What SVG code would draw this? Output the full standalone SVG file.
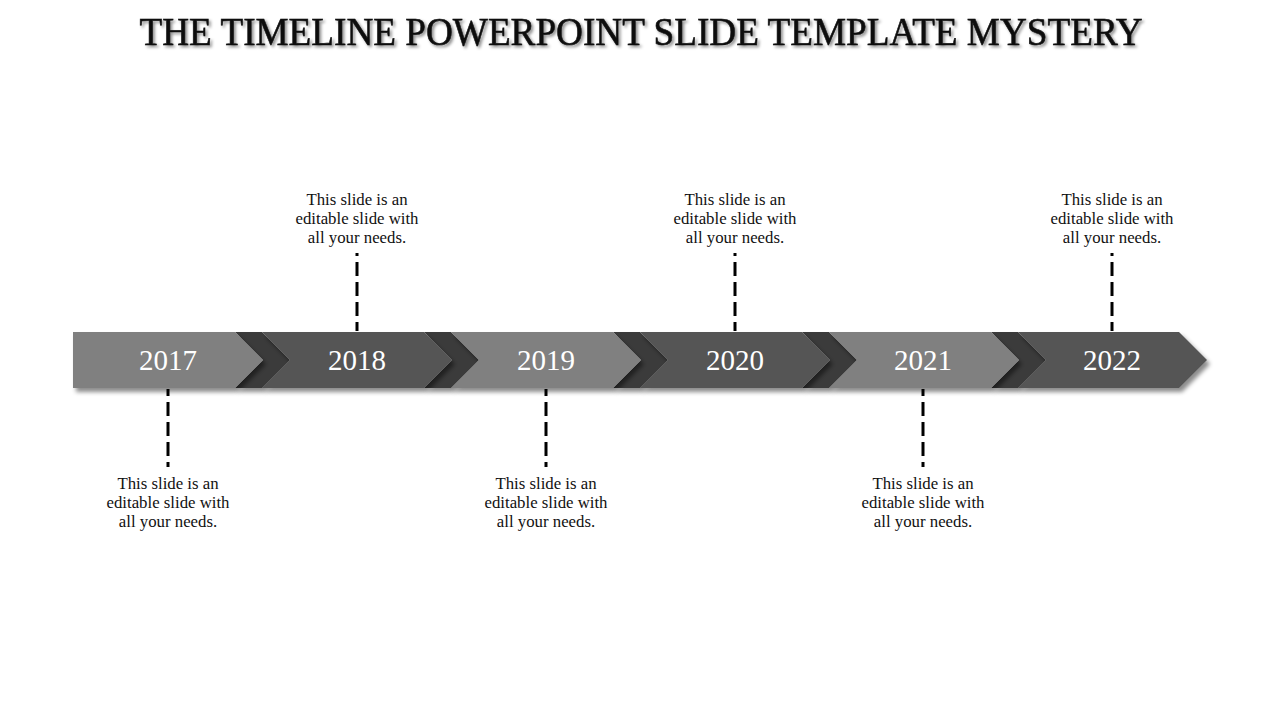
<svg xmlns="http://www.w3.org/2000/svg" width="1280" height="720" viewBox="0 0 1280 720">
<defs>
<filter id="sh" x="-10%" y="-20%" width="125%" height="160%">
<feDropShadow dx="3" dy="4" stdDeviation="2" flood-color="#000" flood-opacity="0.45"/>
</filter>
<filter id="tsh" x="-5%" y="-30%" width="110%" height="160%">
<feDropShadow dx="2" dy="2" stdDeviation="1.5" flood-color="#000" flood-opacity="0.45"/>
</filter>
<style>
.seg{filter:url(#sh)}
.light{fill:#808080}
.dark{fill:#555555}
.notch{fill:#3a3a3a}
.title{font-family:"Liberation Serif","DejaVu Serif",serif;font-size:40px;fill:#111111;stroke:#111111;stroke-width:0.6;text-anchor:middle}
.yr{font-family:"Liberation Serif","DejaVu Serif",serif;font-size:29px;fill:#ffffff;text-anchor:middle}
.desc{font-family:"Liberation Serif","DejaVu Serif",serif;font-size:16.8px;fill:#111111;text-anchor:middle}
.dash{stroke:#000;stroke-width:3;stroke-dasharray:14 6;fill:none}
.up{stroke-dashoffset:11}
.down{stroke-dashoffset:7}
</style>
</defs>
<rect width="1280" height="720" fill="#ffffff"/>
<text class="title" x="641" y="45" textLength="1003" lengthAdjust="spacingAndGlyphs" filter="url(#tsh)">THE TIMELINE POWERPOINT SLIDE TEMPLATE MYSTERY</text>
<g id="bar">
<g id="notches" filter="url(#sh)">
<polygon class="notch" points="235,332 262,332 290,360 262,388 235,388 263,360"/>
<polygon class="notch" points="424,332 451,332 479,360 451,388 424,388 452,360"/>
<polygon class="notch" points="613,332 640,332 668,360 640,388 613,388 641,360"/>
<polygon class="notch" points="802,332 829,332 857,360 829,388 802,388 830,360"/>
<polygon class="notch" points="991,332 1018,332 1046,360 1018,388 991,388 1019,360"/>
</g>
<g id="node-2017"><polygon class="seg light" points="73,332 235,332 263,360 235,388 73,388"/><text class="yr" x="168" y="370">2017</text></g>
<g id="node-2018"><polygon class="seg dark" points="262,332 424,332 452,360 424,388 262,388 290,360"/><text class="yr" x="357" y="370">2018</text></g>
<g id="node-2019"><polygon class="seg light" points="451,332 613,332 641,360 613,388 451,388 479,360"/><text class="yr" x="546" y="370">2019</text></g>
<g id="node-2020"><polygon class="seg dark" points="640,332 802,332 830,360 802,388 640,388 668,360"/><text class="yr" x="735" y="370">2020</text></g>
<g id="node-2021"><polygon class="seg light" points="829,332 991,332 1019,360 991,388 829,388 857,360"/><text class="yr" x="923" y="370">2021</text></g>
<g id="node-2022"><polygon class="seg dark" points="1018,332 1179,332 1207,360 1179,388 1018,388 1046,360"/><text class="yr" x="1112" y="370">2022</text></g>
</g>
<g id="connectors">
<line class="dash up" x1="357" y1="253" x2="357" y2="331"/>
<line class="dash up" x1="735" y1="253" x2="735" y2="331"/>
<line class="dash up" x1="1112" y1="253" x2="1112" y2="331"/>
<line class="dash down" x1="168" y1="389" x2="168" y2="467"/>
<line class="dash down" x1="546" y1="389" x2="546" y2="467"/>
<line class="dash down" x1="923" y1="389" x2="923" y2="467"/>
</g>
<g id="desc-2018"><text class="desc" x="357" y="205">This slide is an</text><text class="desc" x="357" y="224">editable slide with</text><text class="desc" x="357" y="243">all your needs.</text></g>
<g id="desc-2020"><text class="desc" x="735" y="205">This slide is an</text><text class="desc" x="735" y="224">editable slide with</text><text class="desc" x="735" y="243">all your needs.</text></g>
<g id="desc-2022"><text class="desc" x="1112" y="205">This slide is an</text><text class="desc" x="1112" y="224">editable slide with</text><text class="desc" x="1112" y="243">all your needs.</text></g>
<g id="desc-2017"><text class="desc" x="168" y="489">This slide is an</text><text class="desc" x="168" y="508">editable slide with</text><text class="desc" x="168" y="527">all your needs.</text></g>
<g id="desc-2019"><text class="desc" x="546" y="489">This slide is an</text><text class="desc" x="546" y="508">editable slide with</text><text class="desc" x="546" y="527">all your needs.</text></g>
<g id="desc-2021"><text class="desc" x="923" y="489">This slide is an</text><text class="desc" x="923" y="508">editable slide with</text><text class="desc" x="923" y="527">all your needs.</text></g>
</svg>
